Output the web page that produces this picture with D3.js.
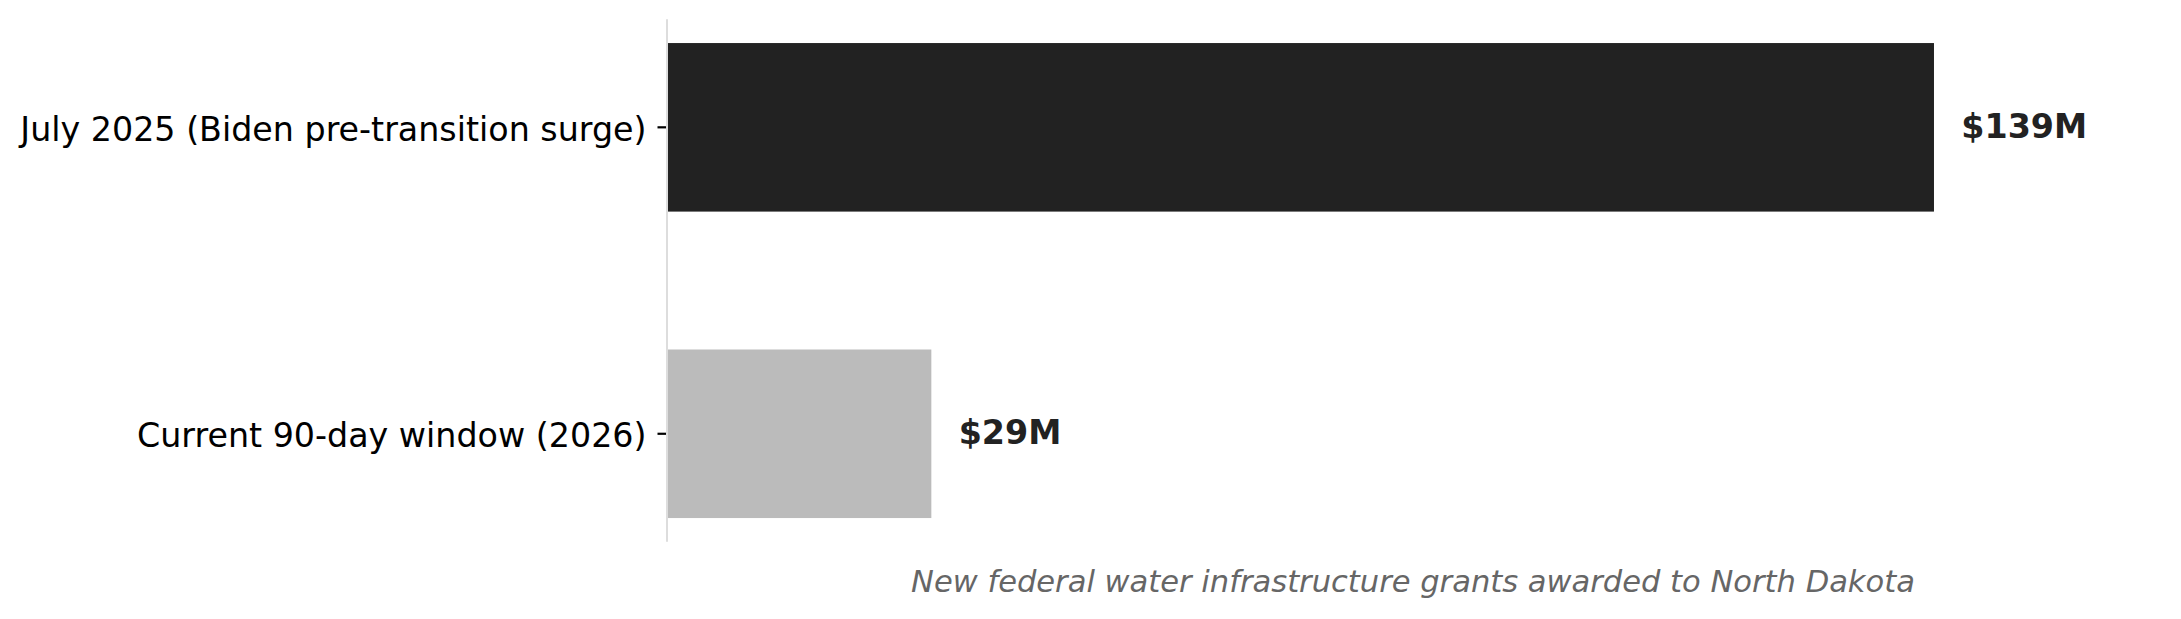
<!DOCTYPE html>
<html>
<head>
<meta charset="utf-8">
<script src="https://cdn.jsdelivr.net/npm/d3@7/dist/d3.min.js"></script>
<style>
  html, body { margin: 0; padding: 0; background: #ffffff; }
  svg { display: block; }
  text { font-family: "DejaVu Sans", sans-serif; }
</style>
</head>
<body>
<svg id="chart" width="2181" height="619"></svg>
<script>
const categories = ["July 2025 (Biden pre-transition surge)", "Current 90-day window (2026)"];
const values = [139, 29];
const valueLabels = ["$139M", "$29M"];
const barColors = ["#222222", "#bbbbbb"];
const caption = "New federal water infrastructure grants awarded to North Dakota";

const W = 2181, H = 619;
const plotLeft = 667, pxPerUnit = 9.115;
const xMax = 160;
const svg = d3.select("#chart");

const x = d3.scaleLinear().domain([0, xMax]).range([plotLeft, plotLeft + xMax * pxPerUnit]);
const y = d3.scaleBand().domain(categories).range([19.3, 541.8]).paddingInner(0.45).paddingOuter(0.0775);

// bars
svg.append("g").selectAll("rect").data(categories).join("rect")
  .attr("x", x(0))
  .attr("y", d => y(d))
  .attr("width", (d, i) => x(values[i]) - x(0))
  .attr("height", y.bandwidth())
  .attr("fill", (d, i) => barColors[i]);

// y axis
const yAxis = d3.axisLeft(y).tickSize(9.5).tickPadding(11);
const gy = svg.append("g").attr("transform", `translate(${plotLeft},0)`).call(yAxis);
gy.select(".domain").remove();
gy.selectAll(".tick line").attr("stroke", "#000").attr("stroke-width", 2.2);
gy.selectAll(".tick text")
  .attr("fill", "#000")
  .style("font-size", "33.3px")
  .style("font-family", "'DejaVu Sans', sans-serif")
  .attr("dy", "0.41em");

// left spine
svg.append("line")
  .attr("x1", plotLeft).attr("x2", plotLeft)
  .attr("y1", y.range()[0]).attr("y2", y.range()[1])
  .attr("stroke", "#dddddd").attr("stroke-width", 2);

// value labels
svg.append("g").selectAll("text").data(categories).join("text")
  .attr("x", (d, i) => x(values[i] + 3))
  .attr("y", d => y(d) + y.bandwidth() / 2)
  .attr("dy", "0.32em")
  .attr("fill", "#222222")
  .style("font-size", "33.3px")
  .style("font-weight", "bold")
  .text((d, i) => valueLabels[i]);

// caption
svg.append("text")
  .attr("x", 1413)
  .attr("y", 591.7)
  .attr("text-anchor", "middle")
  .attr("fill", "#666666")
  .style("font-size", "30.56px")
  .style("font-style", "italic")
  .text(caption);
</script>
</body>
</html>
